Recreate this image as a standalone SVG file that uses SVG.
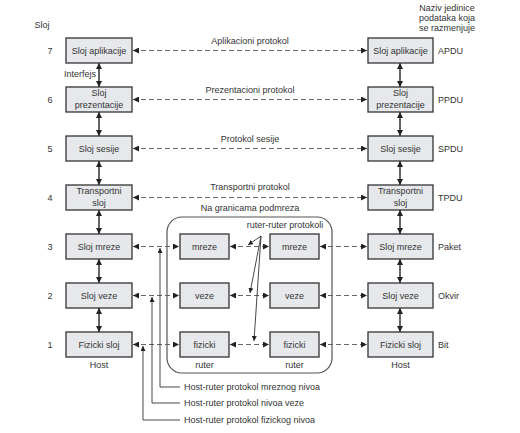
<svg xmlns="http://www.w3.org/2000/svg" width="520" height="433" viewBox="0 0 520 433">
<defs>
<marker id="ah" viewBox="0 0 10 10" refX="10" refY="5" markerWidth="6" markerHeight="6" markerUnits="userSpaceOnUse" orient="auto-start-reverse"><path d="M0,0 L10,5 L0,10 z" fill="#222"/></marker>
<marker id="ahs" viewBox="0 0 10 10" refX="10" refY="5" markerWidth="5" markerHeight="5" markerUnits="userSpaceOnUse" orient="auto-start-reverse"><path d="M0,0 L10,5 L0,10 z" fill="#222"/></marker>
<style>
text{font-family:"Liberation Sans",Arial,sans-serif;font-size:9px;fill:#333}
.c{text-anchor:middle}
.box{fill:#e6e8ec;stroke:#333;stroke-width:1.3}
.dash{stroke:#666;stroke-width:1;stroke-dasharray:5,3;fill:none;marker-start:url(#ah);marker-end:url(#ah)}
.v{stroke:#333;stroke-width:1.5;fill:none;marker-start:url(#ah);marker-end:url(#ah)}
.thin{stroke:#333;stroke-width:0.9;fill:none}
</style>
</defs>
<rect width="520" height="433" fill="#fff"/>
<text x="42" y="28" class="c">Sloj</text>
<text x="447" y="11" class="c">Naziv jedinice</text>
<text x="447" y="21" class="c">podataka koja</text>
<text x="447" y="31" class="c">se razmenjuje</text>
<g id="nums">
<text x="50" y="54" class="c">7</text>
<text x="50" y="103" class="c">6</text>
<text x="50" y="152" class="c">5</text>
<text x="50" y="201" class="c">4</text>
<text x="50" y="250" class="c">3</text>
<text x="50" y="299" class="c">2</text>
<text x="50" y="348" class="c">1</text>
</g>
<g id="units">
<text x="438" y="54">APDU</text>
<text x="438" y="103">PPDU</text>
<text x="438" y="152">SPDU</text>
<text x="438" y="201">TPDU</text>
<text x="438" y="250">Paket</text>
<text x="438" y="299">Okvir</text>
<text x="438" y="348">Bit</text>
</g>
<rect id="subnet" x="167" y="217" width="165" height="156" rx="15" fill="none" stroke="#555" stroke-width="1.2"/>
<g id="connectors">
<line class="v" x1="99" y1="63" x2="99" y2="87"/>
<line class="v" x1="99" y1="112" x2="99" y2="136"/>
<line class="v" x1="99" y1="161" x2="99" y2="185"/>
<line class="v" x1="99" y1="210" x2="99" y2="234"/>
<line class="v" x1="99" y1="259" x2="99" y2="283"/>
<line class="v" x1="99" y1="308" x2="99" y2="332"/>
<line class="v" x1="400" y1="63" x2="400" y2="87"/>
<line class="v" x1="400" y1="112" x2="400" y2="136"/>
<line class="v" x1="400" y1="161" x2="400" y2="185"/>
<line class="v" x1="400" y1="210" x2="400" y2="234"/>
<line class="v" x1="400" y1="259" x2="400" y2="283"/>
<line class="v" x1="400" y1="308" x2="400" y2="332"/>
<line class="dash" x1="133" y1="50.5" x2="367" y2="50.5"/>
<line class="dash" x1="133" y1="99.5" x2="367" y2="99.5"/>
<line class="dash" x1="133" y1="148.5" x2="367" y2="148.5"/>
<line class="dash" x1="133" y1="197.5" x2="367" y2="197.5"/>
<line class="dash" x1="133" y1="246.5" x2="179" y2="246.5"/>
<line class="dash" x1="230" y1="246.5" x2="269" y2="246.5"/>
<line class="dash" x1="320" y1="246.5" x2="367" y2="246.5"/>
<line class="dash" x1="133" y1="295.5" x2="179" y2="295.5"/>
<line class="dash" x1="230" y1="295.5" x2="269" y2="295.5"/>
<line class="dash" x1="320" y1="295.5" x2="367" y2="295.5"/>
<line class="dash" x1="133" y1="344.5" x2="179" y2="344.5"/>
<line class="dash" x1="230" y1="344.5" x2="269" y2="344.5"/>
<line class="dash" x1="320" y1="344.5" x2="367" y2="344.5"/>
<line class="thin" x1="261" y1="236" x2="248" y2="245" marker-end="url(#ahs)"/>
<line class="thin" x1="261" y1="236" x2="250" y2="293" marker-end="url(#ahs)"/>
<line class="thin" x1="261" y1="236" x2="254" y2="341" marker-end="url(#ahs)"/>
<polyline class="thin" points="180,387 160,387 160,248" marker-end="url(#ahs)"/>
<polyline class="thin" points="180,403 152,403 152,297" marker-end="url(#ahs)"/>
<polyline class="thin" points="180,420 143,420 143,346" marker-end="url(#ahs)"/>
</g>
<g id="protocol-labels">
<text x="250" y="44" class="c">Aplikacioni protokol</text>
<text x="250" y="93" class="c">Prezentacioni protokol</text>
<text x="250" y="142" class="c">Protokol sesije</text>
<text x="250" y="190" class="c">Transportni protokol</text>
<text x="250" y="211" class="c">Na granicama podmreza</text>
<text x="285" y="228" class="c">ruter-ruter protokoli</text>
<text x="64" y="77">Interfejs</text>
<text x="184" y="390">Host-ruter protokol mreznog nivoa</text>
<text x="184" y="406">Host-ruter protokol nivoa veze</text>
<text x="184" y="423">Host-ruter protokol fizickog nivoa</text>
</g>
<g id="L7"><rect class="box" x="66" y="38" width="66" height="25"/><text x="99" y="54" class="c">Sloj aplikacije</text></g>
<g id="L6"><rect class="box" x="66" y="87" width="66" height="25"/><text x="99" y="96" class="c">Sloj</text><text x="99" y="108" class="c">prezentacije</text></g>
<g id="L5"><rect class="box" x="66" y="136" width="66" height="25"/><text x="99" y="152" class="c">Sloj sesije</text></g>
<g id="L4"><rect class="box" x="66" y="185" width="66" height="25"/><text x="99" y="194" class="c">Transportni</text><text x="99" y="206" class="c">sloj</text></g>
<g id="L3"><rect class="box" x="66" y="234" width="66" height="25"/><text x="99" y="250" class="c">Sloj mreze</text></g>
<g id="L2"><rect class="box" x="66" y="283" width="66" height="25"/><text x="99" y="299" class="c">Sloj veze</text></g>
<g id="L1"><rect class="box" x="66" y="332" width="66" height="25"/><text x="99" y="348" class="c">Fizicki sloj</text></g>
<text x="99" y="368" class="c">Host</text>
<g id="R7"><rect class="box" x="368" y="38" width="65" height="25"/><text x="400.5" y="54" class="c">Sloj aplikacije</text></g>
<g id="R6"><rect class="box" x="368" y="87" width="65" height="25"/><text x="400.5" y="96" class="c">Sloj</text><text x="400.5" y="108" class="c">prezentacije</text></g>
<g id="R5"><rect class="box" x="368" y="136" width="65" height="25"/><text x="400.5" y="152" class="c">Sloj sesije</text></g>
<g id="R4"><rect class="box" x="368" y="185" width="65" height="25"/><text x="400.5" y="194" class="c">Transportni</text><text x="400.5" y="206" class="c">sloj</text></g>
<g id="R3"><rect class="box" x="368" y="234" width="65" height="25"/><text x="400.5" y="250" class="c">Sloj mreze</text></g>
<g id="R2"><rect class="box" x="368" y="283" width="65" height="25"/><text x="400.5" y="299" class="c">Sloj veze</text></g>
<g id="R1"><rect class="box" x="368" y="332" width="65" height="25"/><text x="400.5" y="348" class="c">Fizicki sloj</text></g>
<text x="400.5" y="368" class="c">Host</text>
<g id="A3"><rect class="box" x="180" y="234" width="49" height="25"/><text x="204.5" y="250" class="c">mreze</text></g>
<g id="A2"><rect class="box" x="180" y="283" width="49" height="25"/><text x="204.5" y="299" class="c">veze</text></g>
<g id="A1"><rect class="box" x="180" y="332" width="49" height="25"/><text x="204.5" y="348" class="c">fizicki</text></g>
<text x="204.5" y="368" class="c">ruter</text>
<g id="B3"><rect class="box" x="270" y="234" width="49" height="25"/><text x="294.5" y="250" class="c">mreze</text></g>
<g id="B2"><rect class="box" x="270" y="283" width="49" height="25"/><text x="294.5" y="299" class="c">veze</text></g>
<g id="B1"><rect class="box" x="270" y="332" width="49" height="25"/><text x="294.5" y="348" class="c">fizicki</text></g>
<text x="294.5" y="368" class="c">ruter</text>
</svg>
